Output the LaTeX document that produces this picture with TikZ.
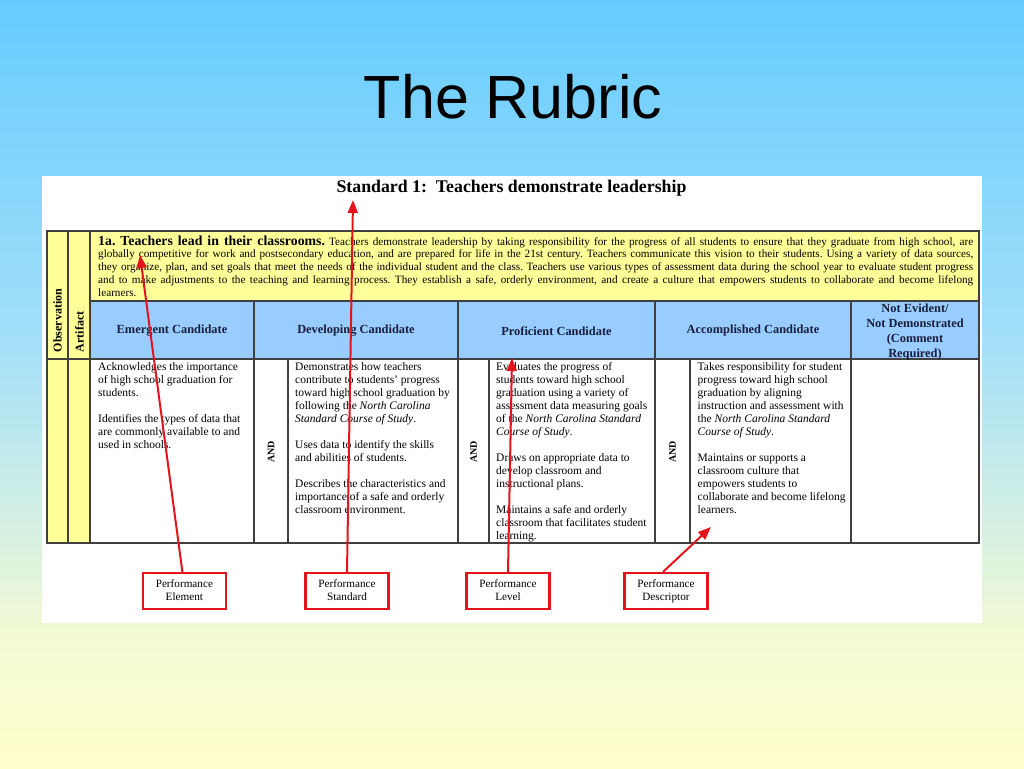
\documentclass[tikz,border=0pt]{standalone}
\usepackage{fontspec}
\setmainfont{Liberation Serif}
\newfontfamily\titlefont{Liberation Sans}
\usetikzlibrary{arrows.meta}
\frenchspacing
\definecolor{bgtop}{RGB}{102,204,255}
\definecolor{bgmid}{RGB}{165,224,248}
\definecolor{bgmidb}{RGB}{244,250,212}
\definecolor{bgbot}{RGB}{255,255,204}
\definecolor{rowyellow}{RGB}{255,255,153}
\definecolor{hdrblue}{RGB}{153,204,255}
\definecolor{gridline}{RGB}{64,64,64}
\definecolor{hdrtext}{RGB}{25,30,60}
\definecolor{arrowred}{RGB}{228,20,28}
\newcommand\cellbox[1]{\parbox[t]{200pt}{\fontsize{11.5}{13}\selectfont\raggedright #1}}
\newcommand\jline[1]{\hbox to 875pt{#1}}
\tikzset{
  grid/.style={draw=gridline, line width=1.3pt},
  hdr/.style={font=\bfseries\fontsize{12.4}{14.7}\selectfont, text=hdrtext, align=center, inner sep=0pt},
  bodytext/.style={anchor=base west, inner sep=0pt},
  andlabel/.style={rotate=90, font=\bfseries\fontsize{10}{12}\selectfont, inner sep=0pt},
  sidelabel/.style={rotate=90, anchor=west, font=\bfseries\fontsize{12}{14}\selectfont, inner sep=0pt},
  pbox/.style={draw=arrowred, line width=2.2pt, fill=white, minimum width=83pt, minimum height=36pt, align=center, font=\fontsize{11.2}{13.3}\selectfont, inner sep=0pt},
  parrow/.style={draw=arrowred, line width=2pt, -{Triangle[length=13pt,width=10pt]}}
}
\begin{document}
\begin{tikzpicture}[x=1pt,y=-1pt]
\useasboundingbox (0,0) rectangle (1024,768);
% background
\shade[top color=bgtop, bottom color=bgmid] (0,0) rectangle (1024,350.5);
\shade[top color=bgmid, bottom color=bgmidb] (0,350) rectangle (1024,640.5);
\shade[top color=bgmidb, bottom color=bgbot] (0,640) rectangle (1024,768);
% title
\node[font=\titlefont\fontsize{61}{70}\selectfont, anchor=base] (title) at (513,118) {The Rubric};
% white panel
\fill[white] (42,175.5) rectangle (982,622.5);
\node[font=\bfseries\fontsize{17.8}{20}\selectfont, anchor=base] (std) at (511.5,192) {Standard 1:~ Teachers demonstrate leadership};
% table fills
\fill[rowyellow] (47,231) rectangle (979,301);
\fill[hdrblue] (90,301) rectangle (979,359);
\fill[rowyellow] (47,301) rectangle (90,543);
% grid
\draw[grid] (47,231) rectangle (979,543);
\draw[grid] (90,301) -- (979,301);
\draw[grid] (47,359) -- (979,359);
\foreach \x in {68,90} \draw[grid] (\x,231) -- (\x,543);
\foreach \x in {254,458,655,851} \draw[grid] (\x,301) -- (\x,543);
\foreach \x in {288,489,690} \draw[grid] (\x,359) -- (\x,543);
% element row text
\node[bodytext] (elemtext) at (98,245) {\parbox[t]{875pt}{\fontsize{11.2}{12.8}\selectfont
\jline{{\bfseries\fontsize{13.8}{14}\selectfont 1a. Teachers lead in their classrooms.} Teachers demonstrate leadership by taking responsibility for the progress of all students to ensure that they graduate from high school, are}
\jline{globally competitive for work and postsecondary education, and are prepared for life in the 21st century. Teachers communicate this vision to their students. Using a variety of data sources,}
\jline{they organize, plan, and set goals that meet the needs of the individual student and the class. Teachers use various types of assessment data during the school year to evaluate student progress}
\jline{and to make adjustments to the teaching and learning process. They establish a safe, orderly environment, and create a culture that empowers students to collaborate and become lifelong}
\hbox{learners.}}};
% side labels
\node[sidelabel] (obs) at (57.5,352.5) {Observation};
\node[sidelabel] (art) at (79.5,352.5) {Artifact};
% headers
\node[hdr] (h1) at (172,331) {Emergent Candidate};
\node[hdr] (h2) at (356,331) {Developing Candidate};
\node[hdr] (h3) at (556.5,331) {Proficient Candidate};
\node[hdr] (h4) at (753,331) {Accomplished Candidate};
\node[hdr] (h5) at (915,332) {Not Evident/\\Not Demonstrated\\(Comment\\Required)};
% AND labels
\node[andlabel] (and1) at (271,452) {AND};
\node[andlabel] (and2) at (473.5,452) {AND};
\node[andlabel] (and3) at (672.5,452) {AND};
% body cells
\node[bodytext] (c1) at (98,370) {\cellbox{Acknowledges the importance\\of high school graduation for\\students.\\[13pt]Identifies the types of data that\\are commonly available to and\\used in schools.}};
\node[bodytext] (c2) at (295,370) {\cellbox{Demonstrates how teachers\\contribute to students' progress\\toward high school graduation by\\following the \textit{North Carolina}\\\textit{Standard Course of Study}.\\[13pt]Uses data to identify the skills\\and abilities of students.\\[13pt]Describes the characteristics and\\importance of a safe and orderly\\classroom environment.}};
\node[bodytext] (c3) at (496,370) {\cellbox{Evaluates the progress of\\students toward high school\\graduation using a variety of\\assessment data measuring goals\\of the \textit{North Carolina Standard}\\\textit{Course of Study}.\\[13pt]Draws on appropriate data to\\develop classroom and\\instructional plans.\\[13pt]Maintains a safe and orderly\\classroom that facilitates student\\learning.}};
\node[bodytext] (c4) at (697.5,370) {\cellbox{Takes responsibility for student\\progress toward high school\\graduation by aligning\\instruction and assessment with\\the \textit{North Carolina Standard}\\\textit{Course of Study}.\\[13pt]Maintains or supports a\\classroom culture that\\empowers students to\\collaborate and become lifelong\\learners.}};
% callout boxes
\node[pbox] (elem) at (184.4,591) {\strut Performance\\Element\strut};
\node[pbox] (stdbox) at (347,591) {\strut Performance\\Standard\strut};
\node[pbox] (lvl) at (508,591) {\strut Performance\\Level\strut};
\node[pbox] (desc) at (666,591) {\strut Performance\\Descriptor\strut};
% arrow targets
\coordinate (t1) at (140,255);
\coordinate (t2) at (353,200);
\coordinate (t3) at (512,358);
\coordinate (t4) at (711,527);
\draw[parrow] ([xshift=-2pt]elem.north) -- (t1);
\draw[parrow] (stdbox.north) -- (t2);
\draw[parrow] (lvl.north) -- (t3);
\draw[parrow] ([xshift=-3pt]desc.north) -- (t4);
\end{tikzpicture}
\end{document}
